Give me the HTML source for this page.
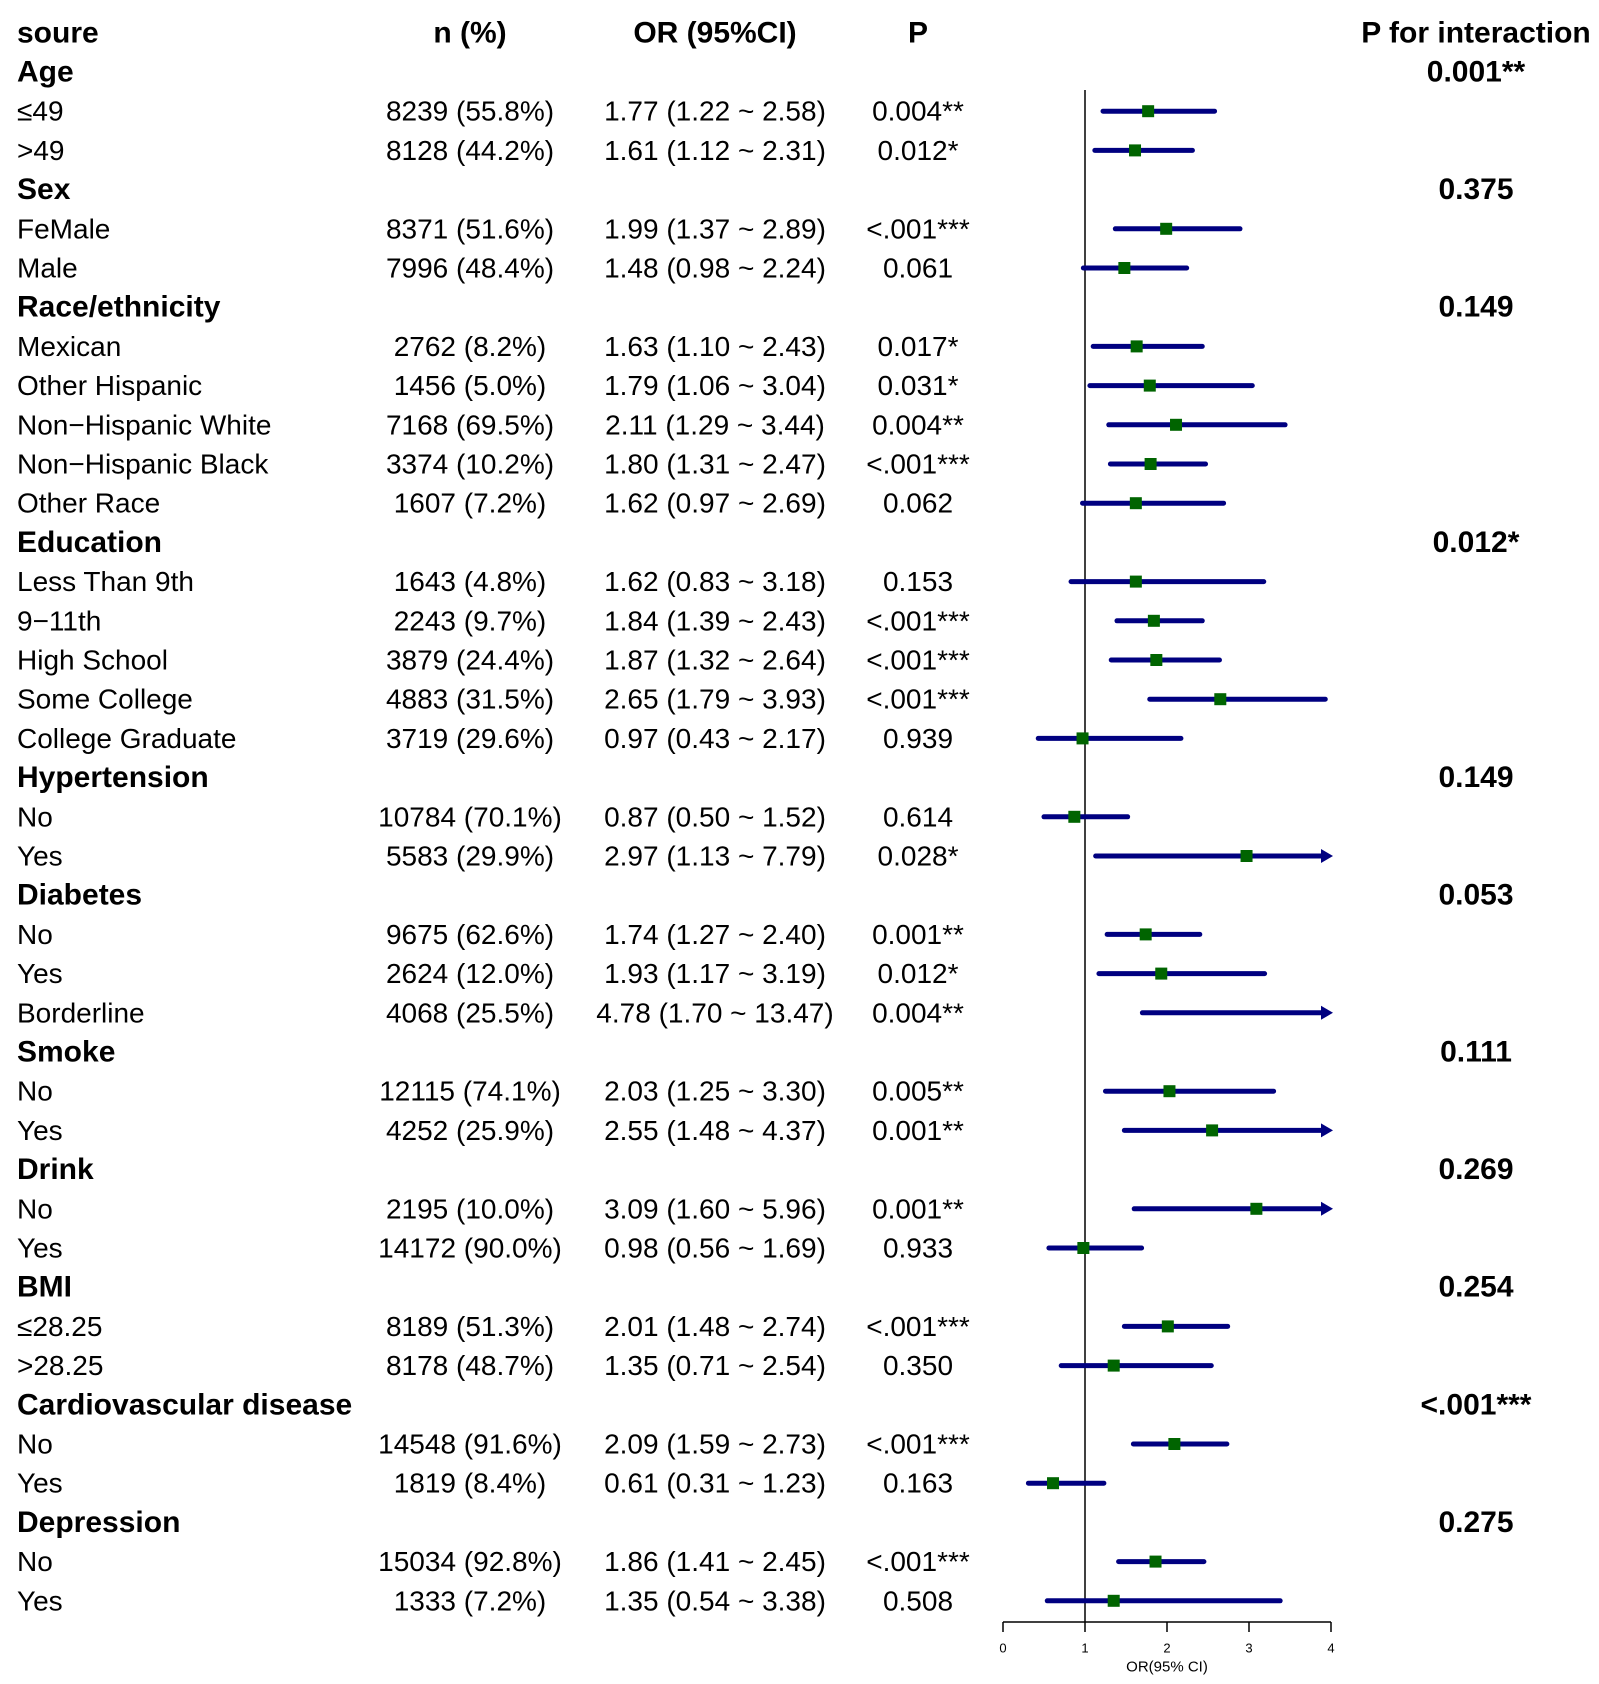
<!DOCTYPE html>
<html><head><meta charset="utf-8"><style>
body{margin:0;background:#fff;width:1599px;height:1684px;overflow:hidden}
svg{display:block}
text{font-family:"Liberation Sans",Arial,sans-serif;fill:#000}
</style></head><body>
<svg id="chart" width="1599" height="1684" viewBox="0 0 1599 1684" xmlns="http://www.w3.org/2000/svg"></svg>
<script>
const labels=["Age","≤49",">49","Sex","FeMale","Male","Race/ethnicity","Mexican","Other Hispanic","Non−Hispanic White","Non−Hispanic Black","Other Race","Education","Less Than 9th","9−11th","High School","Some College","College Graduate","Hypertension","No","Yes","Diabetes","No","Yes","Borderline","Smoke","No","Yes","Drink","No","Yes","BMI","≤28.25",">28.25","Cardiovascular disease","No","Yes","Depression","No","Yes"];
const isGroup=[1,0,0,1,0,0,1,0,0,0,0,0,1,0,0,0,0,0,1,0,0,1,0,0,0,1,0,0,1,0,0,1,0,0,1,0,0,1,0,0];
const nText=["","8239 (55.8%)","8128 (44.2%)","","8371 (51.6%)","7996 (48.4%)","","2762 (8.2%)","1456 (5.0%)","7168 (69.5%)","3374 (10.2%)","1607 (7.2%)","","1643 (4.8%)","2243 (9.7%)","3879 (24.4%)","4883 (31.5%)","3719 (29.6%)","","10784 (70.1%)","5583 (29.9%)","","9675 (62.6%)","2624 (12.0%)","4068 (25.5%)","","12115 (74.1%)","4252 (25.9%)","","2195 (10.0%)","14172 (90.0%)","","8189 (51.3%)","8178 (48.7%)","","14548 (91.6%)","1819 (8.4%)","","15034 (92.8%)","1333 (7.2%)"];
const orVal=[null,1.77,1.61,null,1.99,1.48,null,1.63,1.79,2.11,1.80,1.62,null,1.62,1.84,1.87,2.65,0.97,null,0.87,2.97,null,1.74,1.93,4.78,null,2.03,2.55,null,3.09,0.98,null,2.01,1.35,null,2.09,0.61,null,1.86,1.35];
const loVal=[null,1.22,1.12,null,1.37,0.98,null,1.10,1.06,1.29,1.31,0.97,null,0.83,1.39,1.32,1.79,0.43,null,0.50,1.13,null,1.27,1.17,1.70,null,1.25,1.48,null,1.60,0.56,null,1.48,0.71,null,1.59,0.31,null,1.41,0.54];
const hiVal=[null,2.58,2.31,null,2.89,2.24,null,2.43,3.04,3.44,2.47,2.69,null,3.18,2.43,2.64,3.93,2.17,null,1.52,7.79,null,2.40,3.19,13.47,null,3.30,4.37,null,5.96,1.69,null,2.74,2.54,null,2.73,1.23,null,2.45,3.38];
const pText=["","0.004**","0.012*","","<.001***","0.061","","0.017*","0.031*","0.004**","<.001***","0.062","","0.153","<.001***","<.001***","<.001***","0.939","","0.614","0.028*","","0.001**","0.012*","0.004**","","0.005**","0.001**","","0.001**","0.933","","<.001***","0.350","","<.001***","0.163","","<.001***","0.508"];
const pInt=["0.001**","","","0.375","","","0.149","","","","","","0.012*","","","","","","0.149","","","0.053","","","","0.111","","","0.269","","","0.254","","","<.001***","","","0.275","",""];
const ticks=[0,1,2,3,4];

const svg=document.getElementById('chart');
const NS='http://www.w3.org/2000/svg';
const X0=1003,PX=82,XMAX=4;
const xs=v=>X0+v*PX;
const ys=i=>72+i*39.2;
const RS=28,BS=30;
function mk(t,a,txt){const e=document.createElementNS(NS,t);for(const k in a)e.setAttribute(k,a[k]);if(txt!=null)e.textContent=txt;svg.appendChild(e);return e;}
function tx(x,y,s,anchor,bold,size){return mk('text',{x:x,y:y,'text-anchor':anchor,'font-size':size||(bold?BS:RS),'font-weight':bold?'bold':'normal','dominant-baseline':'central'},s);}

let e;
e=tx(17,33,'soure','start',true);
e=tx(470,33,'n (%)','middle',true);
e=tx(715,33,'OR (95%CI)','middle',true);
e=tx(918,33,'P','middle',true);
e=tx(1476,33,'P for interaction','middle',true);

e=mk('line',{x1:xs(1),x2:xs(1),y1:90,y2:1622,stroke:'#000','stroke-width':1.5});



for(let i=0;i<labels.length;i++){
  const y=ys(i);
  e=tx(17,y,labels[i],'start',isGroup[i]);
  
  
  if(nText[i]){e=tx(470,y,nText[i],'middle',false);}
  if(orVal[i]!=null){
    e=tx(715,y,orVal[i].toFixed(2)+' ('+loVal[i].toFixed(2)+' ~ '+hiVal[i].toFixed(2)+')','middle',false);
    
    
  }
  if(pText[i]){e=tx(918,y,pText[i],'middle',false);}
  if(pInt[i]){e=tx(1476,y,pInt[i],'middle',true);}
  if(orVal[i]!=null){
    const clip=hiVal[i]>XMAX;
    const x1=xs(loVal[i]),x2=clip?xs(XMAX)-8:xs(hiVal[i]);
    e=mk('line',{x1:x1,x2:x2,y1:y,y2:y,stroke:'#000080','stroke-width':5,'stroke-linecap':'round'});
    
    
    if(clip){
      const xe=xs(XMAX)+2;
      e=mk('polygon',{points:(xe-12)+','+(y-7)+' '+xe+','+y+' '+(xe-12)+','+(y+7),fill:'#000080'});
      
      
    }
    if(orVal[i]<=XMAX){
      e=mk('rect',{x:xs(orVal[i])-6,y:y-6,width:12,height:12,fill:'#006400'});
      
      
    }
  }
}
e=mk('line',{x1:xs(0),x2:xs(4),y1:1622,y2:1622,stroke:'#000','stroke-width':1.5});


for(const t of ticks){
  e=mk('line',{x1:xs(t),x2:xs(t),y1:1622,y2:1632,stroke:'#000','stroke-width':1.5});
  
  
  e=tx(xs(t),1648,String(t),'middle',false,13);
  
  
}
e=tx(xs(2),1667,'OR(95% CI)','middle',false,15);


</script>
</body></html>
